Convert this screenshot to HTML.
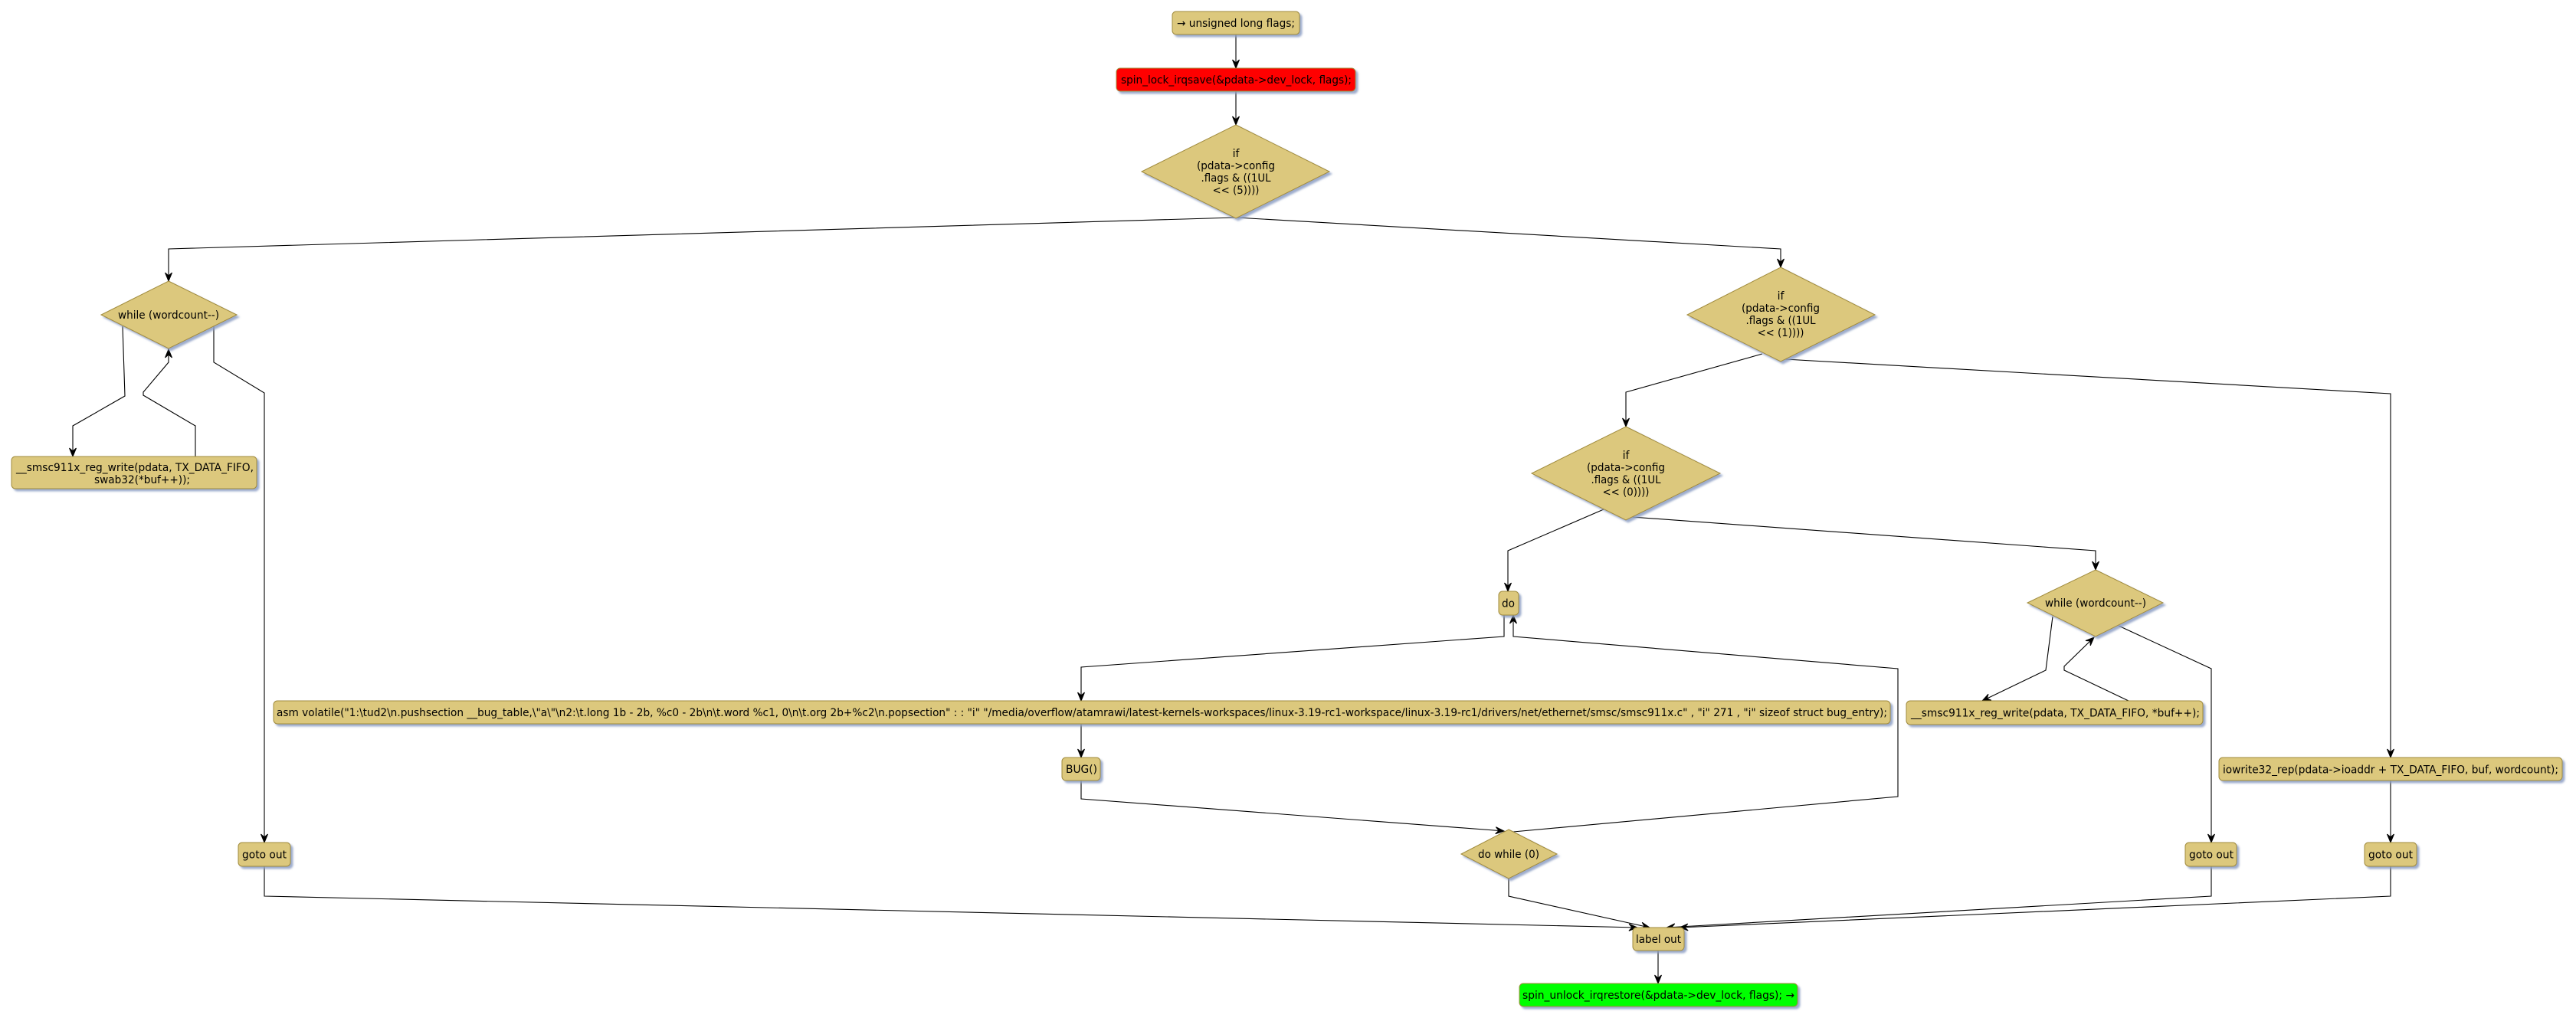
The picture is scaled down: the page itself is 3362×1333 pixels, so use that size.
<!DOCTYPE html>
<html>
<head>
<meta charset="utf-8">
<style>
html,body{margin:0;padding:0;background:#fff;}
svg{display:block;}
text{font-family:"DejaVu Sans","Liberation Sans",sans-serif;font-size:14px;fill:#000;}
</style>
</head>
<body>
<svg width="3362" height="1333" viewBox="0 0 3362 1333" xmlns="http://www.w3.org/2000/svg">
<defs>
<filter id="sh" x="-20%" y="-50%" width="140%" height="200%">
<feGaussianBlur in="SourceAlpha" stdDeviation="1.2"/>
<feOffset dx="3" dy="3" result="o"/>
<feFlood flood-color="#8c9ec4" flood-opacity="0.85"/>
<feComposite in2="o" operator="in"/>
<feMerge><feMergeNode/><feMergeNode in="SourceGraphic"/></feMerge>
</filter>
</defs>

<g fill="none" stroke="#000" stroke-width="1.1">
<polyline points="1613,45 1613,89"/>
<polyline points="1613,119 1613,163"/>
<polyline points="1613,284 220,325 220,367"/>
<polyline points="1613,284 2324,325 2324,349"/>
<polyline points="160,426 163,517 95,556 95,596"/>
<polyline points="255,596 255,556 187,516 187,512 220,473 220,456"/>
<polyline points="279,426 279,473 345,513 345,1100"/>
<polyline points="345,1131 345,1170 2137,1211"/>
<polyline points="2300,462 2122,512 2122,557"/>
<polyline points="2330,469 3120,514 3120,989"/>
<polyline points="2093,665 1968,719 1968,772"/>
<polyline points="2130,675 2735,719 2735,744"/>
<polyline points="1963,803 1963,831 1411,871 1411,915"/>
<polyline points="1411,945 1411,989"/>
<polyline points="1411,1019 1411,1043 1963,1085"/>
<polyline points="1975,1086 2477,1040 2477,873 1975,831 1975,803"/>
<polyline points="1969,1147 1969,1170 2153,1211"/>
<polyline points="2886,1131 2886,1170 2175,1211"/>
<polyline points="3120,1131 3120,1170 2192,1211"/>
<polyline points="2164,1241 2164,1284"/>
<polyline points="2679,805 2670,875 2587,915"/>
<polyline points="2778,915 2694,875 2694,870 2733,832"/>
<polyline points="2765,817 2886,873 2886,1100"/>
<polyline points="3120,1019 3120,1100"/>
</g>

<g fill="#000" stroke="#000" stroke-width="1">
<polygon points="1608.5,78 1613,89 1617.5,78 1613,82"/>
<polygon points="1608.5,152 1613,163 1617.5,152 1613,156"/>
<polygon points="215.5,356 220,367 224.5,356 220,360"/>
<polygon points="2319.5,338 2324,349 2328.5,338 2324,342"/>
<polygon points="90.5,585 95,596 99.5,585 95,589"/>
<polygon points="215.5,467 220,456 224.5,467 220,463"/>
<polygon points="340.5,1089 345,1100 349.5,1089 345,1093"/>
<polygon points="2125.9,1215.25 2137,1211 2126.1,1206.25 2130,1210.84"/>
<polygon points="2117.5,546 2122,557 2126.5,546 2122,550"/>
<polygon points="3115.5,978 3120,989 3124.5,978 3120,982"/>
<polygon points="1963.5,761 1968,772 1972.5,761 1968,765"/>
<polygon points="2730.5,733 2735,744 2739.5,733 2735,737"/>
<polygon points="1406.5,904 1411,915 1415.5,904 1411,908"/>
<polygon points="1406.5,978 1411,989 1415.5,978 1411,982"/>
<polygon points="1951.69,1088.66 1963,1085 1952.37,1079.68 1956.02,1084.47"/>
<polygon points="1970.5,814 1975,803 1979.5,814 1975,810"/>
<polygon points="2141.29,1213.01 2153,1211 2143.23,1204.23 2146.17,1209.49"/>
<polygon points="2185.72,1205.88 2175,1211 2186.24,1214.86 2181.99,1210.6"/>
<polygon points="2202.79,1206.02 2192,1211 2203.19,1215 2198.99,1210.69"/>
<polygon points="2159.5,1273 2164,1284 2168.5,1273 2164,1277"/>
<polygon points="2594.96,906.17 2587,915 2598.86,914.27 2593.31,911.96"/>
<polygon points="2728.26,842.89 2733,832 2721.98,836.45 2727.98,836.88"/>
<polygon points="2881.5,1089 2886,1100 2890.5,1089 2886,1093"/>
<polygon points="3115.5,1089 3120,1100 3124.5,1089 3120,1093"/>
</g>

<g stroke="#a08b3d" stroke-width="1" filter="url(#sh)">
<rect x="1530" y="15" width="166" height="30" rx="5" fill="#dcc87d"/>
<rect x="1457" y="89" width="312" height="30" rx="5" fill="#ff0000"/>
<polygon points="1613,163 1735,224 1613,285 1490,224" fill="#dcc87d"/>
<polygon points="220,367 309,411 220,455 132,411" fill="#dcc87d"/>
<rect x="15" y="596" width="320" height="42" rx="5" fill="#dcc87d"/>
<rect x="311" y="1100" width="68" height="31" rx="5" fill="#dcc87d"/>
<polygon points="2324,349 2447,411 2324,472 2202,411" fill="#dcc87d"/>
<polygon points="2122,557 2245,618 2122,679 1999,618" fill="#dcc87d"/>
<rect x="1956" y="772" width="26" height="31" rx="5" fill="#dcc87d"/>
<rect x="357" y="915" width="2110" height="30" rx="5" fill="#dcc87d"/>
<rect x="1386" y="989" width="50" height="30" rx="5" fill="#dcc87d"/>
<polygon points="1969,1083 2032,1115 1969,1147 1907,1115" fill="#dcc87d"/>
<polygon points="2735,744 2823,787 2735,831 2646,787" fill="#dcc87d"/>
<rect x="2488" y="915" width="387" height="31" rx="5" fill="#dcc87d"/>
<rect x="2852" y="1100" width="67" height="31" rx="5" fill="#dcc87d"/>
<rect x="2896" y="989" width="448" height="30" rx="5" fill="#dcc87d"/>
<rect x="3086" y="1100" width="68" height="31" rx="5" fill="#dcc87d"/>
<rect x="2131" y="1211" width="67" height="30" rx="5" fill="#dcc87d"/>
<rect x="1983" y="1284" width="363" height="30" rx="5" fill="#00ff00"/>
</g>

<g>
<text x="1536" y="35" textLength="154" lengthAdjust="spacingAndGlyphs">→ unsigned long flags;</text>
<text x="1463" y="109" textLength="301" lengthAdjust="spacingAndGlyphs">spin_lock_irqsave(&amp;pdata-&gt;dev_lock, flags);</text>

<text x="1613" y="205" text-anchor="middle">if</text>
<text x="1562" y="221" textLength="102" lengthAdjust="spacingAndGlyphs">(pdata-&gt;config</text>
<text x="1567.5" y="237" textLength="91" lengthAdjust="spacingAndGlyphs">.flags &amp; ((1UL</text>
<text x="1582.5" y="253" textLength="61" lengthAdjust="spacingAndGlyphs">&lt;&lt; (5))))</text>

<text x="154" y="416" textLength="132" lengthAdjust="spacingAndGlyphs">while (wordcount--)</text>
<text x="21" y="615" textLength="310" lengthAdjust="spacingAndGlyphs">__smsc911x_reg_write(pdata, TX_DATA_FIFO,</text>
<text x="123" y="631" textLength="125" lengthAdjust="spacingAndGlyphs">swab32(*buf++));</text>
<text x="316" y="1120.5" textLength="58" lengthAdjust="spacingAndGlyphs">goto out</text>

<text x="2324" y="391" text-anchor="middle">if</text>
<text x="2273" y="407" textLength="102" lengthAdjust="spacingAndGlyphs">(pdata-&gt;config</text>
<text x="2278.5" y="423" textLength="91" lengthAdjust="spacingAndGlyphs">.flags &amp; ((1UL</text>
<text x="2293.5" y="439" textLength="61" lengthAdjust="spacingAndGlyphs">&lt;&lt; (1))))</text>

<text x="2122" y="599" text-anchor="middle">if</text>
<text x="2071" y="615" textLength="102" lengthAdjust="spacingAndGlyphs">(pdata-&gt;config</text>
<text x="2076.5" y="631" textLength="91" lengthAdjust="spacingAndGlyphs">.flags &amp; ((1UL</text>
<text x="2091.5" y="647" textLength="61" lengthAdjust="spacingAndGlyphs">&lt;&lt; (0))))</text>

<text x="1960" y="792.5" textLength="17" lengthAdjust="spacingAndGlyphs">do</text>
<text x="361" y="935" textLength="2102" lengthAdjust="spacingAndGlyphs">asm volatile("1:\tud2\n.pushsection __bug_table,\"a\"\n2:\t.long 1b - 2b, %c0 - 2b\n\t.word %c1, 0\n\t.org 2b+%c2\n.popsection" : : "i" "/media/overflow/atamrawi/latest-kernels-workspaces/linux-3.19-rc1-workspace/linux-3.19-rc1/drivers/net/ethernet/smsc/smsc911x.c" , "i" 271 , "i" sizeof struct bug_entry);</text>
<text x="1391" y="1009" textLength="41" lengthAdjust="spacingAndGlyphs">BUG()</text>
<text x="1929" y="1120" textLength="80" lengthAdjust="spacingAndGlyphs">do while (0)</text>

<text x="2669" y="792" textLength="132" lengthAdjust="spacingAndGlyphs">while (wordcount--)</text>
<text x="2494" y="935.5" textLength="377" lengthAdjust="spacingAndGlyphs">__smsc911x_reg_write(pdata, TX_DATA_FIFO, *buf++);</text>
<text x="2857" y="1120.5" textLength="58" lengthAdjust="spacingAndGlyphs">goto out</text>
<text x="2901" y="1009.5" textLength="438" lengthAdjust="spacingAndGlyphs">iowrite32_rep(pdata-&gt;ioaddr + TX_DATA_FIFO, buf, wordcount);</text>
<text x="3091" y="1120.5" textLength="58" lengthAdjust="spacingAndGlyphs">goto out</text>

<text x="2135" y="1231" textLength="59" lengthAdjust="spacingAndGlyphs">label out</text>
<text x="1987" y="1304" textLength="355" lengthAdjust="spacingAndGlyphs">spin_unlock_irqrestore(&amp;pdata-&gt;dev_lock, flags); →</text>
</g>
</svg>
</body>
</html>
